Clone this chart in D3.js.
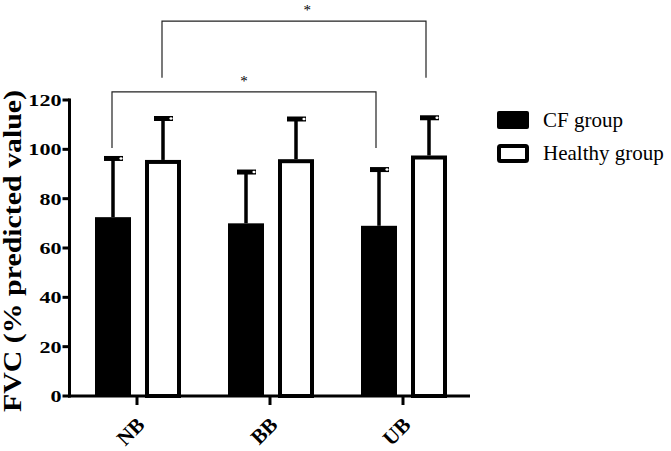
<!DOCTYPE html>
<html>
<head>
<meta charset="utf-8">
<script src="https://cdn.jsdelivr.net/npm/d3@7"></script>
<style>
  html, body { margin: 0; padding: 0; background: #fff; }
  svg { display: block; }
</style>
</head>
<body>
<svg id="chart" width="671" height="451"></svg>
<script>
// ---- data ----
const categories = ["NB", "BB", "UB"];
const seriesNames = ["CF group", "Healthy group"];
const cfMeans = [72.5, 70, 69];
const cfErrors = [24, 21, 23];
const healthyMeans = [95.7, 96, 97.5];
const healthyErrors = [17, 16.5, 15.5];
const yTicks = [0, 20, 40, 60, 80, 100, 120];
const yLabel = "FVC (% predicted value)";
// significance brackets: [category, series] endpoints, y levels in data units
const brackets = [
  { from: ["NB", 0], to: ["UB", 0], top: 123.3, bottom: 100.5, label: "*", labelX: 0.5 },
  { from: ["NB", 1], to: ["UB", 1], top: 152, bottom: 129, label: "*", labelX: 0.55 }
];

const FONT = "'Liberation Serif', 'Times New Roman', Times, 'DejaVu Serif', serif";
const svg = d3.select("#chart").attr("font-family", FONT);

const y = d3.scaleLinear().domain([0, 120]).range([396, 100]);
const x = d3.scaleBand().domain(categories).range([71.5, 470.5]).padding(0);
const inner = d3.scaleBand().domain([0, 1]).range([-43, 43]).paddingInner(0.28);
const bw = inner.bandwidth();

const center = (cat, s) => x(cat) + x.bandwidth() / 2 + inner(s) + bw / 2;

const data = [];
categories.forEach((c, i) => {
  data.push({ cat: c, s: 0, v: cfMeans[i], e: cfErrors[i] });
  data.push({ cat: c, s: 1, v: healthyMeans[i], e: healthyErrors[i] });
});

// error bars
const eg = svg.append("g");
data.forEach(d => {
  const cx = center(d.cat, d.s);
  eg.append("line")
    .attr("x1", cx).attr("x2", cx)
    .attr("y1", y(d.v)).attr("y2", y(d.v + d.e))
    .attr("stroke", "#000").attr("stroke-width", 3.5);
  eg.append("line")
    .attr("x1", cx - 9).attr("x2", cx + 10)
    .attr("y1", y(d.v + d.e) + 0.5).attr("y2", y(d.v + d.e) + 0.5)
    .attr("stroke", "#000").attr("stroke-width", 5);
  eg.append("ellipse")
    .attr("cx", cx + 8).attr("cy", y(d.v + d.e) + 0.5)
    .attr("rx", 1.6).attr("ry", 1.2)
    .attr("fill", "#fff");
});

// bars
const bg = svg.append("g");
data.forEach(d => {
  const x0 = x(d.cat) + x.bandwidth() / 2 + inner(d.s);
  if (d.s === 0) {
    bg.append("rect")
      .attr("x", x0).attr("width", bw)
      .attr("y", y(d.v)).attr("height", y(0) - y(d.v))
      .attr("fill", "#000");
  } else {
    bg.append("rect")
      .attr("x", x0 + 2).attr("width", bw - 4)
      .attr("y", y(d.v) + 2).attr("height", y(0) - y(d.v) - 2)
      .attr("fill", "#fff").attr("stroke", "#000").attr("stroke-width", 4);
  }
});

// y axis
const yAxis = svg.append("g").attr("transform", "translate(69.5,0)");
yAxis.append("line")
  .attr("x1", 0).attr("x2", 0).attr("y1", y(120) - 1.5).attr("y2", y(0) + 1.5)
  .attr("stroke", "#000").attr("stroke-width", 3);
yTicks.forEach(t => {
  yAxis.append("line")
    .attr("x1", -7).attr("x2", 0).attr("y1", y(t)).attr("y2", y(t))
    .attr("stroke", "#000").attr("stroke-width", 3);
  yAxis.append("text")
    .attr("transform", `translate(-8,${y(t) + 6}) scale(1.3,1)`)
    .attr("text-anchor", "end")
    .attr("font-size", 17).attr("font-weight", "bold")
    .text(t);
});

// x axis
const xAxis = svg.append("g").attr("transform", "translate(0,396)");
xAxis.append("line")
  .attr("x1", 68).attr("x2", 470).attr("y1", 0).attr("y2", 0)
  .attr("stroke", "#000").attr("stroke-width", 3);
categories.forEach(c => {
  const cx = x(c) + x.bandwidth() / 2 - 1;
  xAxis.append("line")
    .attr("x1", cx).attr("x2", cx).attr("y1", 0).attr("y2", 9)
    .attr("stroke", "#000").attr("stroke-width", 3);
  xAxis.append("text")
    .attr("transform", `translate(${cx + 9},${30}) rotate(-45)`)
    .attr("text-anchor", "end")
    .attr("font-size", 21).attr("font-weight", "bold")
    .text(c);
});

// y label
svg.append("text")
  .attr("transform", `translate(21,251) rotate(-90)`)
  .attr("text-anchor", "middle")
  .attr("font-size", 25).attr("font-weight", "bold")
  .attr("textLength", 322).attr("lengthAdjust", "spacingAndGlyphs")
  .text(yLabel);

// brackets
brackets.forEach(b => {
  const x1 = center(b.from[0], b.from[1]) - 1;
  const x2 = center(b.to[0], b.to[1]) - 3;
  svg.append("path")
    .attr("d", `M${x1},${y(b.bottom)}V${y(b.top)}H${x2}V${y(b.bottom)}`)
    .attr("fill", "none").attr("stroke", "#222").attr("stroke-width", 1.2);
  svg.append("text")
    .attr("x", x1 + (x2 - x1) * b.labelX).attr("y", y(b.top) - 6)
    .attr("text-anchor", "middle")
    .attr("font-size", 15).attr("fill", "#000")
    .text(b.label);
});

// legend
const lg = svg.append("g").attr("transform", "translate(497,111)");
seriesNames.forEach((n, i) => {
  const g = lg.append("g").attr("transform", `translate(0,${i * 33})`);
  if (i === 0) {
    g.append("rect").attr("x", 0).attr("y", 0).attr("width", 32).attr("height", 18)
      .attr("rx", 2).attr("fill", "#000");
  } else {
    g.append("rect").attr("x", 2).attr("y", 2).attr("width", 28).attr("height", 15)
      .attr("rx", 1.5).attr("fill", "#fff").attr("stroke", "#000").attr("stroke-width", 4);
  }
  g.append("text")
    .attr("x", 46).attr("y", 16)
    .attr("font-size", 21)
    .text(n);
});
</script>
</body>
</html>
